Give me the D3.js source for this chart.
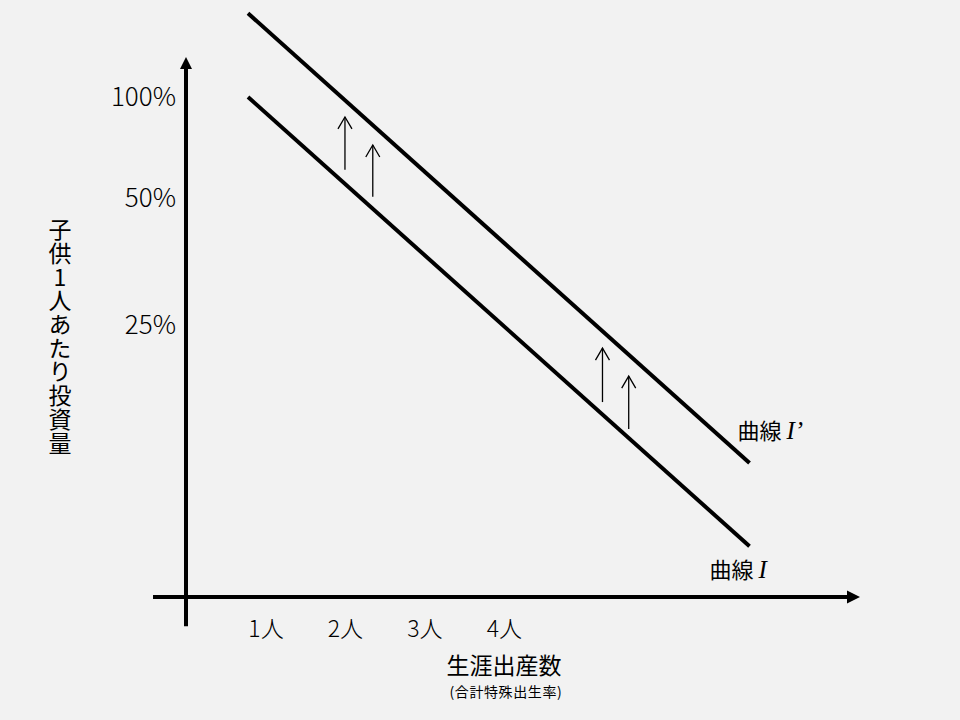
<!DOCTYPE html>
<html><head><meta charset="utf-8">
<script src="https://cdn.jsdelivr.net/npm/d3@7/dist/d3.min.js"></script>
<style>
html,body{margin:0;padding:0;background:#f2f2f2;}
svg{display:block;}
text{font-family:"Noto Sans CJK JP","Noto Sans",sans-serif;fill:#000;}
</style></head>
<body>
<svg id="chart" width="960" height="720"></svg>
<script>
// ---- data ----
const xTickValues = [1, 2, 3, 4];
const xTickLabels = ["1人", "2人", "3人", "4人"];
const yTickLevels = [9.28, 7.41, 5.06];
const yTickLabels = ["100%", "50%", "25%"];
const curveNames = ["曲線 ", "曲線 "];
const curveMarks = ["I’", "I"];
const curveStartX = [0.78, 0.78];
const curveEndX = [7.09, 7.09];
const curveStartLevel = [10.81, 9.26];
const curveEndLevel = [2.48, 0.94];
const shiftX = [2.0, 2.35, 5.24, 5.57];
const shiftFrom = [7.91, 7.41, 3.61, 3.11];
const shiftTo = [8.89, 8.37, 4.61, 4.09];
const yTitle = "子供1人あたり投資量";
const xTitle = "生涯出産数";
const xSubTitle = "(合計特殊出生率)";

// ---- scales ----
const x = d3.scaleLinear().domain([0, 8.48]).range([186, 860]);
const y = d3.scaleLinear().domain([0, 10]).range([597, 57]);

const svg = d3.select("#chart");
svg.append("rect").attr("width", 960).attr("height", 720).attr("fill", "#f2f2f2");

// ---- axes lines with arrowheads ----
const x0 = x(0), y0 = y(0);
svg.append("line").attr("x1", x(-0.415)).attr("x2", x(8.48) - 12)
  .attr("y1", y0).attr("y2", y0).attr("stroke", "#000").attr("stroke-width", 4);
svg.append("path")
  .attr("d", `M${x(8.48)},${y0} L${x(8.48)-13},${y0-6.5} L${x(8.48)-13},${y0+6.5} Z`)
  .attr("fill", "#000");
svg.append("line").attr("x1", x0).attr("x2", x0)
  .attr("y1", y(-0.54)).attr("y2", y(10) + 11).attr("stroke", "#000").attr("stroke-width", 4);
svg.append("path")
  .attr("d", `M${x0},${y(10)} L${x0-6},${y(10)+12} L${x0+6},${y(10)+12} Z`)
  .attr("fill", "#000");

// ---- tick labels via d3 axes ----
const xAxis = d3.axisBottom(x).tickValues(xTickValues)
  .tickFormat((d, i) => xTickLabels[i]).tickSize(0).tickPadding(0);
const gx = svg.append("g").attr("transform", `translate(0,${y0})`).call(xAxis);
gx.select(".domain").remove();
gx.selectAll("text").attr("font-size", 23).attr("dy", null).attr("y", 40)
  .attr("font-family", "\"Noto Sans CJK JP\",sans-serif").attr("font-weight", 300).attr("fill", "#000");

const yAxis = d3.axisLeft(y).tickValues(yTickLevels)
  .tickFormat((d, i) => yTickLabels[i]).tickSize(0).tickPadding(10);
const gy = svg.append("g").attr("transform", `translate(${x0},0)`).call(yAxis);
gy.select(".domain").remove();
gy.selectAll("text").attr("font-size", 26).attr("dy", "0.36em")
  .attr("font-family", "\"Noto Sans CJK JP\",sans-serif").attr("font-weight", 300).attr("fill", "#000");

// ---- curves ----
const line = d3.line().x(d => x(d[0])).y(d => y(d[1]));
curveStartX.forEach((sx, i) => {
  svg.append("path")
    .attr("d", line([[sx, curveStartLevel[i]], [curveEndX[i], curveEndLevel[i]]]))
    .attr("stroke", "#000").attr("stroke-width", 4).attr("fill", "none");
});

// ---- curve labels ----
const labelOffsets = [[-12, -24], [-40, 32]];
curveNames.forEach((name, i) => {
  const t = svg.append("text")
    .attr("x", x(curveEndX[i]) + labelOffsets[i][0])
    .attr("y", y(curveEndLevel[i]) + labelOffsets[i][1])
    .attr("font-size", 22);
  t.append("tspan").text(name);
  t.append("tspan").text(curveMarks[i])
    .attr("font-family", "\"Liberation Serif\",\"DejaVu Serif\",serif")
    .attr("font-style", "italic").attr("font-size", 25);
});

// ---- shift arrows ----
shiftX.forEach((sx, i) => {
  const px = x(sx), yb = y(shiftFrom[i]), yt = y(shiftTo[i]);
  svg.append("line").attr("x1", px).attr("x2", px).attr("y1", yb).attr("y2", yt)
    .attr("stroke", "#000").attr("stroke-width", 1.3);
  svg.append("path")
    .attr("d", `M${px-7},${yt+12} L${px},${yt} L${px+7},${yt+12}`)
    .attr("stroke", "#000").attr("stroke-width", 1.3).attr("fill", "none");
});

// ---- axis titles ----
svg.append("text")
  .attr("x", 60).attr("y", 218)
  .attr("writing-mode", "vertical-rl")
  .style("writing-mode", "vertical-rl")
  .style("text-orientation", "upright")
  .style("letter-spacing", "0.7px")
  .attr("font-size", 23).text(yTitle);

svg.append("text").attr("x", x(4)).attr("y", 674).attr("text-anchor", "middle")
  .attr("font-size", 23).text(xTitle);
svg.append("text").attr("x", x(4) + 2).attr("y", 697).attr("text-anchor", "middle")
  .attr("font-size", 14).style("letter-spacing", "0.6px").text(xSubTitle);
</script>
</body></html>
